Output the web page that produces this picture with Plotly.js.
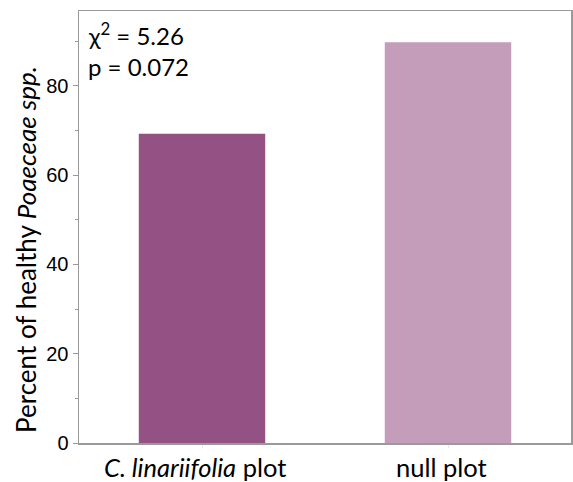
<!DOCTYPE html>
<html>
<head>
<meta charset="utf-8">
<script src="https://cdn.plot.ly/plotly-3.0.1.min.js"></script>
<style>html,body{margin:0;padding:0;background:#fff;}#chart{width:573px;height:482px;}</style>
</head>
<body>
<div id="chart"></div>
<script>
const categories = ["C. linariifolia plot", "null plot"];
const categoryLabels = ["<i>C. linariifolia</i> plot", "null plot"];
const percentHealthy = [69.3, 89.8];
const barColors = ["#935283", "#c49dba"];
const statLines = ["χ<sup>2</sup> = 5.26", "p = 0.072"];
const yTitle = "Percent of healthy <i>Poaeceae spp.</i>";

const textFont = "Lato, 'Open Sans', sans-serif";
const trace = {
  type: "bar",
  x: categories,
  y: percentHealthy,
  marker: {color: barColors, line: {width: 0}},
  hoverinfo: "skip"
};
const labelAnns = categories.map((c, i) => ({
  xref: "x", yref: "paper", x: c, y: 0, xanchor: "center", yanchor: "middle",
  xshift: -7, yshift: -24, showarrow: false, text: categoryLabels[i], borderpad: 0,
  font: {family: textFont, size: 25.5, color: "#000"}
}));
const layout = {
  width: 573, height: 482,
  margin: {l: 79, r: 2, t: 11, b: 39},
  paper_bgcolor: "#fff", plot_bgcolor: "#fff",
  bargap: 0.486,
  showlegend: false,
  font: {family: "'Liberation Sans', Arial, sans-serif", color: "#000"},
  xaxis: {
    showline: true, mirror: true, linecolor: "#9a9a9a", linewidth: 1.5,
    ticks: "outside", ticklen: 3, tickcolor: "#e8e8e8", tickwidth: 1,
    showticklabels: false,
    showgrid: false, zeroline: false
  },
  yaxis: {
    range: [0, 96.8],
    showline: true, mirror: true, linecolor: "#9a9a9a", linewidth: 1.5,
    ticks: "outside", ticklen: 5, tickcolor: "#9a9a9a", tickwidth: 1,
    dtick: 20, tick0: 0,
    minor: {dtick: 10, ticks: "outside", ticklen: 3, tickcolor: "#9a9a9a", showgrid: false},
    showgrid: false, zeroline: false,
    tickfont: {size: 20, color: "#000"}
  },
  annotations: [
    {xref: "paper", yref: "paper", x: 0.014, y: 0.947, xanchor: "left", yanchor: "middle",
     showarrow: false, text: statLines[0],
     font: {family: textFont, size: 24, color: "#000"}},
    {xref: "paper", yref: "paper", x: 0.014, y: 0.8715, xanchor: "left", yanchor: "middle",
     showarrow: false, text: statLines[1],
     font: {family: textFont, size: 24, color: "#000"}},
    {xref: "paper", yref: "paper", x: -0.108, y: 0.449, xanchor: "center", yanchor: "middle",
     textangle: -90, showarrow: false, text: yTitle,
     font: {family: textFont, size: 26, color: "#000"}}
  ].concat(labelAnns)
};
Plotly.newPlot("chart", [trace], layout, {staticPlot: true, displayModeBar: false});
</script>
</body>
</html>
